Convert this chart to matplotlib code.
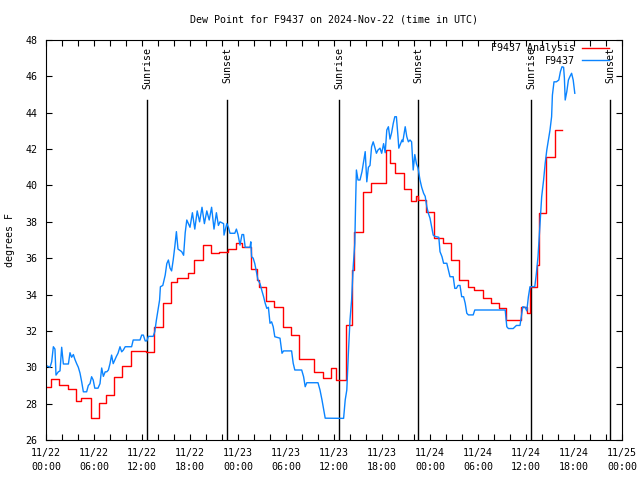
import numpy as np
from matplotlib import pyplot as plt

plt.rcParams['font.family'] = ['DejaVu Sans Mono']
plt.rcParams['font.size'] = 7.2

# hours since 11/22 00:00 UTC
tick_hours = [0, 6, 12, 18, 24, 30, 36, 42, 48, 54, 60, 66, 72]
tick_labels = ['11/22\n00:00', '11/22\n06:00', '11/22\n12:00', '11/22\n18:00',
               '11/23\n00:00', '11/23\n06:00', '11/23\n12:00', '11/23\n18:00',
               '11/24\n00:00', '11/24\n06:00', '11/24\n12:00', '11/24\n18:00',
               '11/25\n00:00']
sunrise_hours = [12.67, 36.67, 60.67]
sunset_hours = [22.67, 46.55, 70.55]

# analysis (step values)
anl_hours = [0.0, 0.6, 1.6, 2.7, 3.7, 4.4, 5.6, 6.6, 7.5, 8.5,
             9.55, 10.6, 12.5, 13.5, 14.6, 15.6, 16.4, 17.7, 18.5, 19.6,
             20.6, 21.6, 22.7, 23.7, 24.5, 25.6, 26.4, 26.6, 27.5, 28.5,
             29.6, 30.6, 31.6, 33.5, 34.6, 35.6, 36.2, 37.5, 38.3, 38.5,
             39.6, 40.6, 42.5, 43.0, 43.6, 44.7, 45.6, 46.3, 46.5, 47.5,
             48.5, 49.6, 50.6, 51.6, 52.7, 53.5, 54.6, 55.6, 56.6, 57.5,
             59.4, 60.1, 60.5, 61.4, 61.6, 62.5, 63.6, 64.5]
anl_dewpt = [28.9, 29.34, 29.0, 28.8, 28.14, 28.3, 27.19, 28.05, 28.47, 29.48,
             30.09, 30.92, 30.83, 32.23, 33.55, 34.7, 34.9, 35.2, 35.9, 36.72,
             36.27, 36.36, 36.52, 36.85, 36.6, 35.4, 34.8, 34.43, 33.66, 33.33,
             32.23, 31.77, 30.43, 29.76, 29.39, 29.94, 29.3, 32.3, 35.35, 37.42,
             39.66, 40.12, 41.95, 41.22, 40.7, 39.79, 39.16, 39.4, 39.2, 38.56,
             37.09, 36.82, 35.9, 34.8, 34.43, 34.25, 33.79, 33.52, 33.24, 32.6,
             33.3, 32.98, 34.43, 35.6, 38.46, 41.58, 43.05, 43.05]

# station observations
obs_hours = [0.0, 0.5, 0.71, 0.92, 1.12, 1.25, 1.54, 1.75, 1.96, 2.17,
             2.8, 3.0, 3.2, 3.42, 3.6, 3.83, 4.04, 4.25, 4.46, 4.67,
             5.08, 5.29, 5.5, 5.7, 5.9, 6.1, 6.5, 6.75, 6.96, 7.17,
             7.4, 7.6, 7.8, 8.0, 8.2, 8.4, 8.6, 8.8, 9.0, 9.25,
             9.46, 9.67, 9.9, 10.7, 10.9, 11.75, 11.96, 12.17, 12.4, 12.6,
             12.8, 13.4, 13.6, 13.8, 14.0, 14.2, 14.3, 14.6, 14.9, 15.1,
             15.3, 15.5, 15.7, 15.9, 16.1, 16.3, 16.5, 16.96, 17.2, 17.4,
             17.6, 18.0, 18.3, 18.6, 18.9, 19.2, 19.5, 19.8, 20.1, 20.4,
             20.7, 21.0, 21.3, 21.55, 21.75, 22.2, 22.25, 22.6, 22.8, 23.0,
             23.6, 23.8, 24.0, 24.25, 24.5, 24.7, 24.9, 25.5, 25.6, 25.7,
             25.9, 26.1, 26.3, 26.5, 26.75, 26.96, 27.2, 27.4, 27.6, 27.8,
             28.0, 28.2, 28.4, 28.6, 29.25, 29.5, 29.7, 30.7, 30.9, 31.1,
             31.96, 32.2, 32.4, 32.6, 34.0, 34.25, 34.5, 34.9, 37.2, 37.4,
             37.6, 37.8, 38.0, 38.2, 38.4, 38.6, 38.7, 38.8, 39.0, 39.25,
             39.5, 39.7, 39.9, 40.1, 40.3, 40.5, 40.7, 40.9, 41.1, 41.3,
             41.5, 41.75, 41.96, 42.2, 42.4, 42.6, 42.8, 43.0, 43.2, 43.4,
             43.6, 43.8, 44.0, 44.1, 44.5, 44.6, 44.9, 45.1, 45.3, 45.5,
             45.7, 45.9, 46.1, 46.3, 46.5, 46.75, 46.96, 47.2, 47.4, 47.6,
             47.8, 48.0, 48.2, 48.4, 48.6, 49.1, 49.25, 49.5, 49.7, 50.1,
             50.3, 50.5, 50.9, 51.1, 51.3, 51.5, 51.75, 51.96, 52.2, 52.4,
             52.6, 52.8, 53.4, 53.6, 57.4, 57.6, 57.8, 58.4, 58.8, 59.25,
             59.6, 59.9, 60.1, 60.3, 60.5, 61.1, 61.3, 61.5, 61.7, 61.8,
             61.96, 62.2, 62.4, 62.6, 62.8, 63.0, 63.2, 63.3, 63.5, 63.8,
             64.1, 64.3, 64.5, 64.7, 64.8, 64.9, 65.1, 65.3, 65.5, 65.7,
             65.9, 66.1]
obs_dewpt = [30.1, 30.0, 30.3, 31.13, 31.0, 29.57, 29.75, 29.8, 31.1, 30.18,
             30.18, 30.8, 30.55, 30.7, 30.45, 30.2, 30.0, 29.68, 29.2, 28.65,
             28.65, 29.0, 29.1, 29.48, 29.3, 28.85, 28.85, 29.1, 29.96, 29.5,
             29.75, 29.75, 29.85, 30.2, 30.67, 30.2, 30.4, 30.6, 30.77, 31.13,
             30.85, 30.95, 31.13, 31.13, 31.5, 31.5, 31.77, 31.77, 31.45, 31.45,
             31.7, 31.7, 31.96, 32.6, 33.15, 33.7, 34.43, 34.5, 35.07, 35.7,
             35.9, 35.46, 35.3, 35.9, 36.63, 37.46, 36.5, 36.36, 36.16, 37.4,
             38.1, 37.7, 38.5, 37.6, 38.6, 38.0, 38.8, 37.9, 38.6, 38.1,
             38.8, 37.6, 38.5, 37.8, 38.0, 37.9, 37.27, 37.9, 37.7, 37.37,
             37.37, 37.6, 37.3, 36.72, 37.3, 37.3, 36.6, 36.6, 36.9, 36.08,
             36.0, 35.7, 35.26, 34.8, 34.6, 34.25, 33.88, 33.52, 33.24, 33.3,
             32.42, 32.5, 32.23, 31.68, 31.6, 30.77, 30.9, 30.9, 30.22, 29.85,
             29.85, 29.48, 28.93, 29.15, 29.15, 28.75, 28.2, 27.2, 27.19, 28.2,
             28.75, 30.8, 32.6, 33.7, 35.53, 36.82, 39.0, 40.85, 40.3, 40.3,
             40.76, 41.3, 41.86, 40.2, 41.0, 41.1, 42.13, 42.4, 42.1, 41.77,
             41.95, 42.05, 41.77, 42.3, 41.8, 43.05, 43.23, 42.55, 42.9, 43.4,
             43.78, 43.78, 42.68, 42.05, 42.5, 42.4, 43.23, 42.68, 42.4, 42.5,
             42.4, 40.85, 41.7, 41.2, 40.97, 40.3, 39.9, 39.57, 39.4, 38.83,
             38.46, 38.2, 37.73, 37.27, 37.2, 37.15, 36.36, 36.08, 35.72, 35.72,
             35.35, 34.98, 34.98, 34.34, 34.34, 34.5, 34.5, 33.88, 33.88, 33.52,
             32.97, 32.88, 32.88, 33.15, 33.15, 32.23, 32.13, 32.13, 32.3, 32.3,
             33.33, 33.3, 33.1, 33.88, 34.43, 34.44, 35.17, 36.08, 37.55, 38.28,
             39.38, 40.3, 41.22, 41.95, 42.5, 43.05, 43.78, 44.97, 45.7, 45.7,
             45.8, 46.26, 46.53, 46.5, 45.9, 44.7, 45.16, 45.8, 46.0, 46.17,
             45.8, 45.07]

red = '#ff0000'
blue = '#0a84ff'

fig = plt.figure(figsize=(6.4, 4.8), dpi=100)
ax = fig.add_axes([46 / 640, 40 / 480, 576 / 640, 400 / 480])

for h in sunrise_hours:
    ax.axvline(h, ymin=0, ymax=0.85, color='black', lw=1.0)
    ax.text(h, 0.982, 'Sunrise', transform=ax.get_xaxis_transform(),
            rotation=90, ha='center', va='top')
for h in sunset_hours:
    ax.axvline(h, ymin=0, ymax=0.85, color='black', lw=1.0)
    ax.text(h, 0.982, 'Sunset', transform=ax.get_xaxis_transform(),
            rotation=90, ha='center', va='top')

ax.plot(anl_hours, anl_dewpt, color=red, lw=1.0, drawstyle='steps-post',
        label='F9437 Analysis')
ax.plot(obs_hours, obs_dewpt, color=blue, lw=1.0, label='F9437')

ax.set_xlim(0, 72)
ax.set_ylim(26, 48)
ax.set_xticks(tick_hours)
ax.set_xticklabels(tick_labels, linespacing=1.45)
ax.set_xticks(np.arange(0, 73, 2), minor=True)
ax.set_yticks(np.arange(26, 49, 2))
ax.tick_params(which='both', direction='in', top=True, right=True,
               length=4, width=0.8)
ax.tick_params(axis='x', pad=6)
ax.tick_params(axis='y', pad=6)
for s in ax.spines.values():
    s.set_linewidth(0.8)

fig.text(10 / 640, 0.5, 'degrees F', rotation=90, ha='center', va='center')
fig.text(334 / 640, 1 - 19 / 480, 'Dew Point for F9437 on 2024-Nov-22 (time in UTC)',
         ha='center', va='center')

ax.legend(loc='upper right', bbox_to_anchor=(0.977, 0.992), frameon=False,
          markerfirst=False, handlelength=2.7, handletextpad=0.7,
          borderaxespad=0.0, labelspacing=0.25, borderpad=0.0)

fig.savefig('out.png', dpi=100)
